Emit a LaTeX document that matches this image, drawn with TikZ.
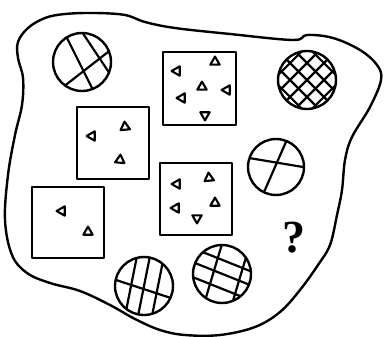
\documentclass[tikz,border=0pt]{standalone}
\usepackage{fontspec}
\newfontfamily\askfont{Liberation Serif}
\newcommand{\TriMark}[3]{%
  \draw[tri,shift={(#1,#2)}] (#3:5.4) -- (#3+120:5.4) -- (#3+240:5.4) -- cycle;
}
\newcommand{\HatchDisc}[4]{%
  \begin{scope}
    \clip (#1,#2) circle (#3);
    #4
  \end{scope}
  \draw[disc] (#1,#2) circle (#3);
}

\begin{document}
\begin{tikzpicture}[x=1pt,y=-1pt,line join=round,
    blob/.style={line width=2.4pt},
    box/.style={line width=2.4pt},
    disc/.style={line width=2.4pt},
    hatch/.style={line width=2.2pt},
    tri/.style={line width=2.1pt}]
    \useasboundingbox (0,0) rectangle (386,337);
    \draw[blob] plot[smooth cycle,tension=0.6] coordinates {
      (18,42) (28,28) (45,18) (65,14) (95,13) (125,15) (145,22) (175,28)
      (230,34) (293,40) (307,35) (333,38) (360,50) (377,65) (381,80)
      (370,107) (352,137) (345,160) (342,190) (337,215) (330,245) (318,265)
      (300,290) (280,312) (255,327) (220,335) (185,335) (160,330) (135,319)
      (110,305) (80,291) (50,283) (27,273) (12,255) (5,220) (8,175)
      (15,135) (22,105) (23,78) (18,58)};
    \HatchDisc{82}{62}{29}{
      \draw[hatch] (60,24) -- (97,98);
      \draw[hatch] (76,23) -- (114,80);
      \draw[hatch] (58,91) -- (117,45);
    }
    \HatchDisc{307}{80}{29}{
      \foreach \d in {-24,-12,0,12,24} {
        \draw[hatch,shift={(307,80)},rotate=45] (-40,\d) -- (40,\d);
        \draw[hatch,shift={(307,80)},rotate=-45] (-40,\d) -- (40,\d);
      }
    }
    \HatchDisc{276}{167}{28}{
      \draw[hatch] (243,157) -- (309,168);
      \draw[hatch] (261,199) -- (289,135);
    }
    \HatchDisc{144}{286}{29}{
      \foreach \x in {131,144,158}
        \draw[hatch] (\x-8,326) -- (\x+8,246);
      \draw[hatch] (110,278) -- (180,301);
    }
    \HatchDisc{222}{274}{29}{
      \foreach \y in {260,274,289}
        \draw[hatch] (190,\y-13) -- (255,\y+13);
      \foreach \x in {213,241}
        \draw[hatch] (\x+10.5,239) -- (\x-10.5,309);
    }
    \draw[box] (163,52) rectangle (236,125);
    \TriMark{177}{71}{180}
    \TriMark{215}{62}{270}
    \TriMark{202}{87}{270}
    \TriMark{227}{90}{180}
    \TriMark{182}{98}{180}
    \TriMark{205}{115}{90}
    \draw[box] (77,107) rectangle (149,179);
    \TriMark{92}{136}{180}
    \TriMark{125}{127}{265}
    \TriMark{120}{160}{275}
    \draw[box] (32,187) rectangle (104,258);
    \TriMark{62}{211}{180}
    \TriMark{88}{232}{270}
    \draw[box] (160,163) rectangle (232,235);
    \TriMark{177}{184}{180}
    \TriMark{209}{178}{265}
    \TriMark{215}{203}{270}
    \TriMark{176}{208}{180}
    \TriMark{197}{218}{90}
    \node[font=\askfont\fontsize{46}{46}\selectfont\bfseries] (ask) at (294,238) {?};
\end{tikzpicture}
\end{document}
